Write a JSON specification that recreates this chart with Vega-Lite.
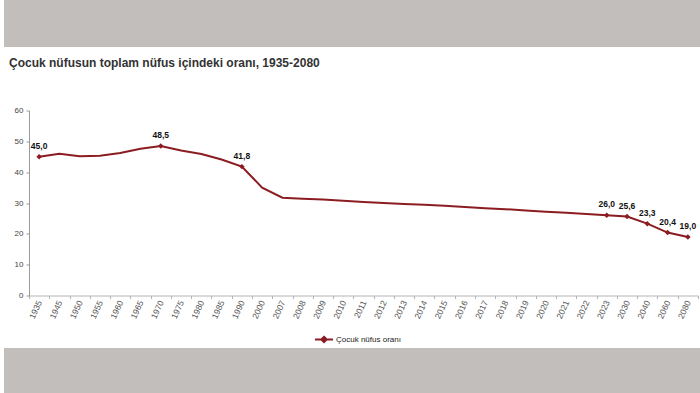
{
  "$schema": "https://vega.github.io/schema/vega-lite/v6.json",
  "padding": 0,
  "background": "white",
  "spacing": 1.5,
  "resolve": {"scale": {"color": "independent"}, "legend": {"color": "independent"}},
  "config": {
    "font": "Liberation Sans",
    "view": {"stroke": null},
    "locale": {"number": {"decimal": ",", "thousands": ".", "grouping": [3], "currency": ["", " ₺"]}}
  },
  "datasets": {
    "veri": [
      {"yil": "1935", "oran": 45.0},
      {"yil": "1945", "oran": 46.0},
      {"yil": "1950", "oran": 45.2},
      {"yil": "1955", "oran": 45.3},
      {"yil": "1960", "oran": 46.2},
      {"yil": "1965", "oran": 47.6},
      {"yil": "1970", "oran": 48.5},
      {"yil": "1975", "oran": 47.0},
      {"yil": "1980", "oran": 45.9},
      {"yil": "1985", "oran": 44.1},
      {"yil": "1990", "oran": 41.8},
      {"yil": "2000", "oran": 35.0},
      {"yil": "2007", "oran": 31.7},
      {"yil": "2008", "oran": 31.4},
      {"yil": "2009", "oran": 31.1},
      {"yil": "2010", "oran": 30.7},
      {"yil": "2011", "oran": 30.3},
      {"yil": "2012", "oran": 30.0},
      {"yil": "2013", "oran": 29.7},
      {"yil": "2014", "oran": 29.4},
      {"yil": "2015", "oran": 29.1},
      {"yil": "2016", "oran": 28.7},
      {"yil": "2017", "oran": 28.3},
      {"yil": "2018", "oran": 28.0},
      {"yil": "2019", "oran": 27.6},
      {"yil": "2020", "oran": 27.2},
      {"yil": "2021", "oran": 26.8},
      {"yil": "2022", "oran": 26.4},
      {"yil": "2023", "oran": 26.0},
      {"yil": "2030", "oran": 25.6},
      {"yil": "2040", "oran": 23.3},
      {"yil": "2060", "oran": 20.4},
      {"yil": "2080", "oran": 19.0}
    ]
  },
  "vconcat": [
    {
      "width": 700,
      "height": 47,
      "view": {"fill": "#c1bebb", "stroke": null},
      "data": {"values": [{"a": 1}]},
      "mark": {"type": "text", "text": ""},
      "encoding": {}
    },
    {
      "width": 700,
      "height": 185,
      "title": {
        "text": ["", "Çocuk nüfusun toplam nüfus içindeki oranı, 1935-2080"],
        "anchor": "start",
        "frame": "group",
        "dx": 5,
        "fontSize": 12,
        "fontWeight": "bold",
        "color": "#333333",
        "lineHeight": 7.5,
        "offset": 37
      },
      "data": {"name": "veri"},
      "encoding": {
        "x": {
          "field": "yil",
          "type": "ordinal",
          "sort": null,
          "bandPosition": 0.5,
          "scale": {"type": "band", "paddingInner": 0, "paddingOuter": 0, "range": [25, 694]},
          "axis": {
            "title": null,
            "labelAngle": -65,
            "labelAlign": "right",
            "labelBaseline": "middle",
            "labelFontSize": 8.5,
            "labelColor": "#555555",
            "labelPadding": 2,
            "labelOverlap": false,
            "tickBand": "extent",
            "tickSize": 3,
            "tickColor": "#b4b4b4",
            "domainColor": "#b4b4b4",
            "grid": false
          }
        },
        "y": {
          "field": "oran",
          "type": "quantitative",
          "scale": {"domain": [0, 60], "nice": false},
          "axis": {
            "offset": -25,
            "minExtent": 0,
            "values": [0, 10, 20, 30, 40, 50, 60],
            "grid": false,
            "title": null,
            "labelFontSize": 8,
            "labelColor": "#444444",
            "labelPadding": 3,
            "tickSize": 3,
            "tickColor": "#9a9a9a",
            "domainColor": "#9a9a9a"
          }
        }
      },
      "layer": [
        {
          "mark": {"type": "line", "strokeWidth": 2},
          "encoding": {
            "color": {
              "datum": "Çocuk nüfus oranı",
              "type": "nominal",
              "scale": {"range": ["#8b1c22"]},
              "legend": {
                "title": null,
                "orient": "none",
                "legendX": 316,
                "legendY": 222,
                "direction": "horizontal",
                "symbolType": "M-2,0H1M-0.5,-0.45L-0.05,0L-0.5,0.45L-0.95,0Z",
                "symbolSize": 144,
                "symbolStrokeWidth": 2,
                "symbolFillColor": "#8b1c22",
                "labelFontSize": 8,
                "labelColor": "#222222",
                "labelOffset": 2,
                "padding": 0
              }
            }
          }
        },
        {
          "transform": [{"filter": {"field": "yil", "oneOf": ["1935", "1970", "1990", "2023", "2030", "2040", "2060", "2080"]}}],
          "mark": {"type": "point", "shape": "diamond", "filled": true, "size": 30, "color": "#8b1c22", "opacity": 1}
        },
        {
          "transform": [{"filter": {"field": "yil", "oneOf": ["1935", "1970", "1990", "2023", "2030", "2040", "2060", "2080"]}}],
          "mark": {"type": "text", "dy": -11, "fontSize": 8.5, "fontWeight": "bold", "color": "#111111", "baseline": "middle", "align": "center"},
          "encoding": {"text": {"field": "oran", "type": "quantitative", "format": ".1f"}}
        },
        {
          "data": {"values": [{"birim": "(%)"}]},
          "mark": {"type": "text", "dx": -10.5, "dy": -10, "fontSize": 7.5, "color": "#555555", "baseline": "middle", "align": "center"},
          "encoding": {
            "x": {"datum": "1935", "type": "ordinal", "bandPosition": 0.5},
            "y": {"datum": 60, "type": "quantitative"},
            "text": {"field": "birim", "type": "nominal"}
          }
        }
      ]
    },
    {
      "width": 700,
      "height": 46,
      "view": {"fill": "#c1bebb", "stroke": null},
      "data": {"values": [{"a": 1}]},
      "mark": {"type": "text", "text": ""},
      "encoding": {}
    }
  ]
}
